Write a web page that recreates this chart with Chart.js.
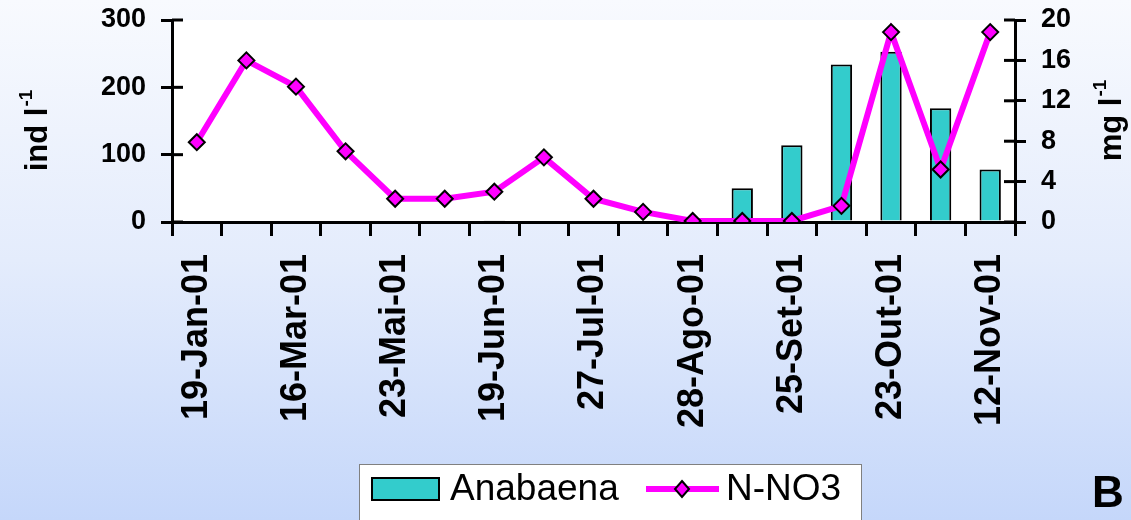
<!DOCTYPE html>
<html>
<head>
<meta charset="utf-8">
<script src="https://cdn.jsdelivr.net/npm/chart.js@4.4.1/dist/chart.umd.min.js"></script>
<style>
html, body { margin: 0; padding: 0; }
body {
    width: 1131px; height: 520px; overflow: hidden;
    background: linear-gradient(to bottom, #f8fafe 0%, #e4ecfc 50%, #c5d7fa 100%);
}
#wrap { position: relative; width: 1131px; height: 520px; }
</style>
</head>
<body>
<div id="wrap"><canvas id="chart1"></canvas></div>
<script>
// sampling dates (only every other one is labelled on the axis)
const tickLabels = ['19-Jan-01', '', '16-Mar-01', '', '23-Mai-01', '', '19-Jun-01', '', '27-Jul-01',
    '', '28-Ago-01', '', '25-Set-01', '', '23-Out-01', '', '12-Nov-01'];
// Anabaena, ind l-1 (left axis)
const anabaena = [0, 0, 0, 0, 0, 0, 2, 0, 0, 0, 0, 50, 114, 234, 253, 169, 78];
// N-NO3, mg l-1 (right axis)
const nno3 = [7.9, 16.0, 13.4, 7.0, 2.3, 2.3, 3.0, 6.4, 2.3, 1.0, 0.1, 0.1, 0.1, 1.6, 18.8, 5.2, 18.8];
const leftTicks = [0, 100, 200, 300];
const rightTicks = [0, 4, 8, 12, 16, 20];

const FONT = '"Liberation Sans", Arial, sans-serif';
Chart.defaults.font.family = FONT;
Chart.defaults.color = '#000';

//white plot area
const plotBg = {
    id: 'plotBg',
    beforeDraw(chart) {
        const a = chart.chartArea, ctx = chart.ctx;
        ctx.save();
        ctx.fillStyle = '#ffffff';
        ctx.fillRect(a.left, a.top, a.right - a.left, a.bottom - a.top);
        ctx.restore();
    }
};

function rotatedTitle(ctx, cx, cy, main, sup) {
    ctx.save();
    ctx.translate(cx, cy);
    ctx.rotate(-Math.PI / 2);
    ctx.fillStyle = '#000';
    ctx.textBaseline = 'alphabetic';
    ctx.font = 'bold 31px ' + FONT;
    const w1 = ctx.measureText(main).width;
    ctx.font = 'bold 19px ' + FONT;
    const w2 = ctx.measureText(sup).width;
    const x0 = -(w1 + w2) / 2;
    ctx.font = 'bold 31px ' + FONT;
    ctx.fillText(main, x0, 11);
    ctx.font = 'bold 19px ' + FONT;
    ctx.fillText(sup, x0 + w1 + 1, -4);
    ctx.restore();
}

//axis titles, inner tick halves, legend and panel letter
const extras = {
    id: 'extras',
    afterDraw(chart) {
        const ctx = chart.ctx;
        const y = chart.scales.y, y2 = chart.scales.y2;
        ctx.save();
        ctx.strokeStyle = '#000';
        ctx.lineWidth = 3;
        leftTicks.forEach(function(v) {
            const p = y.getPixelForValue(v);
            ctx.beginPath(); ctx.moveTo(y.right, p); ctx.lineTo(y.right + 11, p); ctx.stroke();
        });
        rightTicks.forEach(function(v) {
            const p = y2.getPixelForValue(v);
            ctx.beginPath(); ctx.moveTo(y2.left - 11, p); ctx.lineTo(y2.left, p); ctx.stroke();
        });
        ctx.restore();

        rotatedTitle(ctx, 36, 131, 'ind l', '-1');
        rotatedTitle(ctx, 1110, 121, 'mg l', '-1');

        // legend
        const bar = chart.data.datasets[1], line = chart.data.datasets[0];
        ctx.save();
        ctx.fillStyle = '#ffffff';
        ctx.fillRect(359, 464, 502, 70);
        ctx.strokeStyle = '#808080';
        ctx.lineWidth = 1;
        ctx.strokeRect(359.5, 464.5, 502, 70);
        ctx.fillStyle = bar.backgroundColor;
        ctx.fillRect(372, 478, 67, 22);
        ctx.strokeStyle = '#000';
        ctx.lineWidth = 2;
        ctx.strokeRect(372, 478, 67, 22);
        ctx.fillStyle = '#000';
        ctx.font = '37px ' + FONT;
        ctx.textBaseline = 'alphabetic';
        ctx.fillText(bar.label, 450, 500);
        ctx.strokeStyle = line.borderColor;
        ctx.lineWidth = 6;
        ctx.beginPath(); ctx.moveTo(646, 489); ctx.lineTo(719, 489); ctx.stroke();
        ctx.beginPath();
        ctx.moveTo(682, 481); ctx.lineTo(689, 489); ctx.lineTo(682, 497); ctx.lineTo(675, 489); ctx.closePath();
        ctx.fillStyle = line.pointBackgroundColor;
        ctx.fill();
        ctx.strokeStyle = '#000';
        ctx.lineWidth = 2;
        ctx.stroke();
        ctx.fillStyle = '#000';
        ctx.fillText(line.label, 726, 500);
        ctx.font = 'bold 44px ' + FONT;
        ctx.fillText('B', 1092, 507);
        ctx.restore();
    }
};

const data = {
    labels: tickLabels,
    datasets: [{
        type: 'line',
        label: 'N-NO3',
        data: nno3,
        yAxisID: 'y2',
        order: 0,
        borderColor: '#ff00ff',
        borderWidth: 6,
        tension: 0,
        pointStyle: 'rectRot',
        pointRadius: 8,
        pointBackgroundColor: '#ff00ff',
        pointBorderColor: '#000',
        pointBorderWidth: 2
    }, {
        type: 'bar',
        label: 'Anabaena',
        data: anabaena,
        yAxisID: 'y',
        order: 1,
        backgroundColor: '#33cccc',
        borderColor: '#000',
        borderWidth: 2,
        barPercentage: 0.43,
        categoryPercentage: 1
    }]
};

const config = {
    data: data,
    options: {
        responsive: true,
        maintainAspectRatio: false,
        animation: false,
        layout: { padding: { top: 20, left: 0, right: 0, bottom: 0 } },
        plugins: { legend: { display: false }, tooltip: { enabled: false } },
        scales: {
            x: {
                offset: true,
                grid: { offset: true, drawOnChartArea: false, tickLength: 14, lineWidth: 3, color: '#000' },
                border: { width: 3, color: '#000' },
                ticks: { autoSkip: false, minRotation: 90, maxRotation: 90, padding: 18,
                    color: '#000', font: { size: 36, weight: 'bold' } },
                afterFit: function(s) { s.height = 298; s.paddingLeft = 0; s.paddingRight = 0; }
            },
            y: {
                position: 'left',
                min: 0, max: 300,
                afterBuildTicks: function(s) { s.ticks = leftTicks.map(v => ({ value: v })); },
                grid: { drawOnChartArea: false, tickLength: 11, lineWidth: 3, color: '#000' },
                border: { width: 3, color: '#000' },
                ticks: { padding: 15, color: '#000', font: { size: 27, weight: 'bold' } },
                afterFit: function(s) { s.width = 172; s.paddingTop = 0; s.paddingBottom = 0; }
            },
            y2: {
                position: 'right',
                min: 0, max: 20,
                afterBuildTicks: function(s) { s.ticks = rightTicks.map(v => ({ value: v })); },
                grid: { drawOnChartArea: false, tickLength: 11, lineWidth: 3, color: '#000' },
                border: { width: 3, color: '#000' },
                ticks: { padding: 15, color: '#000', font: { size: 27, weight: 'bold' } },
                afterFit: function(s) { s.width = 116; s.paddingTop = 0; s.paddingBottom = 0; }
            }
        }
    },
    plugins: [plotBg, extras]
};

const myChart = new Chart(document.getElementById('chart1'), config);
</script>
</body>
</html>
